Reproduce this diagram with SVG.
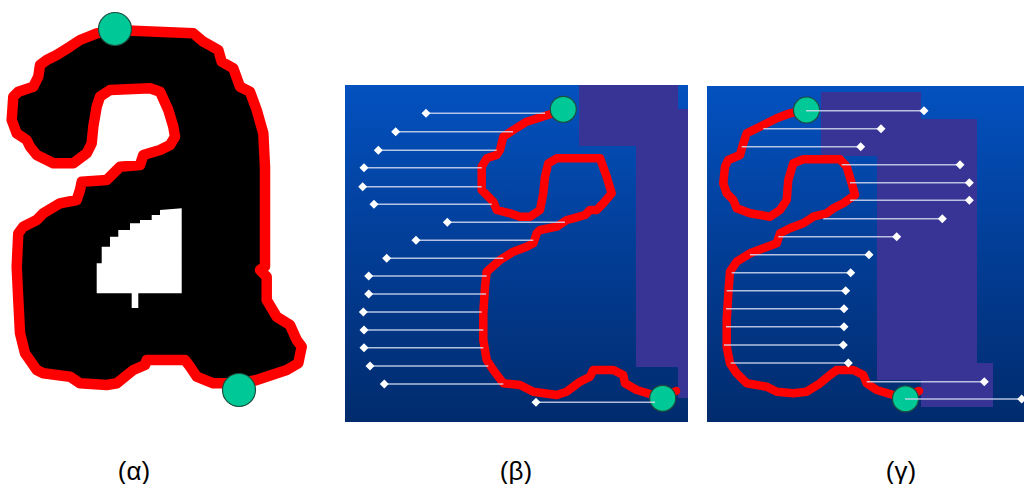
<svg xmlns="http://www.w3.org/2000/svg" xmlns:xlink="http://www.w3.org/1999/xlink" width="1024" height="484" viewBox="0 0 1024 484">
  <style>
    .contour { fill: none; stroke: #ff0000; stroke-linejoin: round; stroke-linecap: round; }
    .thin { stroke-width: 8.5; }
    .thick { stroke-width: 10.5; }
    .seed { fill: #00c896; stroke: #1d4d3e; stroke-width: 1.2; }
    .scan { stroke: #d4dbf0; stroke-opacity: 0.85; stroke-width: 1.6; fill: none; }
    .lbl { font-family: "Liberation Sans", "DejaVu Sans", sans-serif; font-size: 26px; fill: #000; text-anchor: middle; }
    .mask { fill: #373496; }
  </style>
  <defs>
    <linearGradient id="bg" x1="0" y1="0" x2="0" y2="1">
      <stop offset="0" stop-color="#0351bf"/>
      <stop offset="0.5" stop-color="#023d95"/>
      <stop offset="1" stop-color="#012b6d"/>
    </linearGradient>
    <path id="dm" d="M0,-4.5 L4.5,0 L0,4.5 L-4.5,0 Z" fill="#ffffff"/>
    <filter id="soft" x="-5%" y="-5%" width="110%" height="110%">
      <feGaussianBlur stdDeviation="0.7"/>
    </filter>
  </defs>

  <rect width="1024" height="484" fill="#ffffff"/>

  <!-- (α) glyph with traced outline -->
  <g id="panel-alpha">
    <path id="alpha-outline" class="contour thick" style="fill:#000000" d="M115,30 L193.3,33.3 L203.3,41.7 L218.3,50 L221.7,61.7 L233.3,68.3 L240,86.7 L250,91.7 L256.7,110 L263.3,133.3 L265,166.7 L265,266.7 L260,270 L266.7,276.7 L266.7,300 L276.7,316.7 L290,325 L296.7,340 L301.7,346.7 L298.3,363.3 L286.7,370 L256.7,380 L240,383.3 L213.3,383.3 L196.7,376.7 L190,366.7 L185,360 L146.7,360 L145,365 L133.3,370 L116.7,383.3 L106.7,385 L80,383.3 L70,376.7 L43.3,373.3 L36.7,370 L25,353.3 L20,333.3 L18.3,300 L16.7,266.7 L18.3,233.3 L23.3,226.7 L36.7,220 L43.3,213.3 L60,203.3 L76.7,200 L80,190 L81.7,181.7 L106.7,180 L120,166.7 L140,165 L143.3,155 L160,150 L170,145 L175,136.7 L173.3,126.7 L168.3,110 L160,91.7 L150,88.3 L110,90 L100,96.7 L96.7,106.7 L93.3,126.7 L91.7,143.3 L86.7,153.3 L73.3,163.3 L53.3,163.3 L36.7,155 L30,146.7 L26.7,140 L16.7,133.3 L11.7,120 L13.3,96.7 L18.3,91.7 L33.3,86.7 L38.3,76.7 L40,65 L46.7,60 L56.7,55 L70,46.7 L80,40 L96.7,33.3 Z"/>
    <!-- inner counter, stair-stepped -->
    <path id="alpha-hole" fill="#ffffff" filter="url(#soft)" d="M96.7,293.3 L96.7,263.3 L101.7,263.3 L101.7,246.7 L110,246.7 L110,236.7 L118.3,236.7 L118.3,230 L130,230 L130,223.3 L140,223.3 L140,220 L151.7,220 L151.7,215 L160,215 L160,210 L181.7,208.3 L181.7,293.3 L138.3,293.3 L138.3,308 L131.7,308 L131.7,293.3 Z"/>
    <circle class="seed" cx="115" cy="29" r="16.5"/>
    <circle class="seed" cx="239" cy="390" r="16.5"/>
  </g>

  <!-- (β) scan from the left -->
  <g id="panel-beta">
    <rect x="345" y="85" width="343" height="337" fill="url(#bg)"/>
    <path class="mask" d="M579,85 L678,85 L678,109 L688,109 L688,398 L678,398 L678,367 L636,367 L636,146 L579,146 Z"/>
    <path class="contour thin" d="M572,108 L563.3,109.3 L553.3,113.3 L526.7,121.7 L513.3,130 L503.3,136.7 L500,150 L496.7,155 L486.7,158.3 L481.7,166.7 L481.7,190 L486.7,195 L493.3,201.7 L496.7,210 L510,213.3 L520,216.7 L530,216.7 L540,210 L543.3,193.3 L545,176.7 L548.3,163.3 L556.7,158.3 L600,158.3 L606.7,176.7 L611.7,193.3 L603.3,203.3 L596.7,210 L590,210 L585,215 L573.3,218.3 L566.7,220 L556.7,226.7 L540,230 L536.7,233.3 L533.3,243.3 L526.7,246.7 L513.3,251.7 L500,260 L486.7,271.7 L485,286.7 L483.3,313.3 L483.3,340 L486.7,360 L493.3,370 L503.3,383.3 L520,385 L533.3,391.7 L556.7,395 L566.7,391.7 L580,381.7 L590,376.7 L593.3,370 L613.3,370 L623.3,375 L625,383.3 L636.7,390 L653.3,395 L662.7,397 L676,391"/>
    <circle class="seed" cx="563.3" cy="109.3" r="13"/>
    <circle class="seed" cx="662.7" cy="398.3" r="13"/>
    <g id="beta-scanlines">
      <path class="scan" d="M426,113.3 H545 M395.7,131.7 H513 M378.3,150.3 H496.7 M364,167.7 H481.7 M362.7,186.7 H481.7 M374,204.3 H491.7 M447.3,222.3 H565 M416,240.3 H533.3 M386.7,258.3 H503.3 M368.7,276 H486.7 M368.7,294 H486 M363.3,312 H481.7 M364,330 H483.3 M364,347.7 H483.3 M370,366 H488.3 M384.3,384 H503.3 M536,402.3 H655"/>
      <use href="#dm" x="426" y="113.3"/>
      <use href="#dm" x="395.7" y="131.7"/>
      <use href="#dm" x="378.3" y="150.3"/>
      <use href="#dm" x="364" y="167.7"/>
      <use href="#dm" x="362.7" y="186.7"/>
      <use href="#dm" x="374" y="204.3"/>
      <use href="#dm" x="447.3" y="222.3"/>
      <use href="#dm" x="416" y="240.3"/>
      <use href="#dm" x="386.7" y="258.3"/>
      <use href="#dm" x="368.7" y="276"/>
      <use href="#dm" x="368.7" y="294"/>
      <use href="#dm" x="363.3" y="312"/>
      <use href="#dm" x="364" y="330"/>
      <use href="#dm" x="364" y="347.7"/>
      <use href="#dm" x="370" y="366"/>
      <use href="#dm" x="384.3" y="384"/>
      <use href="#dm" x="536" y="402.3"/>
    </g>
  </g>

  <!-- (γ) scan from the right -->
  <g id="panel-gamma">
    <rect x="707" y="86" width="317" height="336" fill="url(#bg)"/>
    <path class="mask" d="M821,92 L921,92 L921,119 L977,119 L977,363 L993,363 L993,407 L921,407 L921,380 L877,380 L877,156 L821,156 Z"/>
    <path class="contour thin" d="M814,108 L806,110 L790,113.3 L776.7,118.3 L763.3,125 L746.7,133.3 L743.3,143.3 L740,155 L728.3,160 L725,166.7 L723.3,183.3 L726.7,193.3 L733.3,200 L736.7,208.3 L750,213.3 L770,216.7 L780,210 L786.7,200 L788.3,180 L793.3,163.3 L803.3,159.3 L840,159.3 L846.7,166.7 L851.7,183.3 L855,195 L843.3,203.3 L833.3,208.3 L826.7,213.3 L813.3,216.7 L803.3,223.3 L790,228.3 L780,233.3 L776.7,243.3 L763.3,248.3 L750,253.3 L736.7,261.7 L730,271.7 L728.3,293.3 L726.7,320 L726.7,346.7 L730,363.3 L736.7,373.3 L746.7,383.3 L766.7,386.7 L776.7,391.7 L793.3,393.3 L806.7,391.7 L820,383.3 L830,375 L836.7,370 L853.3,370 L863.3,375 L866.7,383.3 L876.7,390 L893.3,395 L905,397 L919,391"/>
    <circle class="seed" cx="806.5" cy="110" r="13"/>
    <circle class="seed" cx="905.5" cy="398.8" r="13"/>
    <g id="gamma-scanlines">
      <path class="scan" d="M806,110.7 H924 M763.3,128.7 H881 M741.7,146.7 H860.7 M841.7,164.7 H960 M850,182.7 H969.3 M850,200.3 H969.3 M823.3,218.7 H942.3 M778.3,236.7 H896.7 M750,254.7 H869 M731.7,272.7 H850.7 M726.7,290.7 H845.7 M726,308.7 H844 M726,326.7 H844 M724,345 H843.3 M730.7,363 H848.3 M866.7,381.7 H984.3 M905,399 H1021.7"/>
      <use href="#dm" x="924" y="110.7"/>
      <use href="#dm" x="881" y="128.7"/>
      <use href="#dm" x="860.7" y="146.7"/>
      <use href="#dm" x="960" y="164.7"/>
      <use href="#dm" x="969.3" y="182.7"/>
      <use href="#dm" x="969.3" y="200.3"/>
      <use href="#dm" x="942.3" y="218.7"/>
      <use href="#dm" x="896.7" y="236.7"/>
      <use href="#dm" x="869" y="254.7"/>
      <use href="#dm" x="850.7" y="272.7"/>
      <use href="#dm" x="845.7" y="290.7"/>
      <use href="#dm" x="844" y="308.7"/>
      <use href="#dm" x="844" y="326.7"/>
      <use href="#dm" x="843.3" y="345"/>
      <use href="#dm" x="848.3" y="363"/>
      <use href="#dm" x="984.3" y="381.7"/>
      <use href="#dm" x="1021.7" y="399"/>
    </g>
  </g>

  <g id="captions">
    <text class="lbl" x="134" y="480">(α)</text>
    <text class="lbl" x="516" y="480">(β)</text>
    <text class="lbl" x="901" y="480">(γ)</text>
  </g>
</svg>
